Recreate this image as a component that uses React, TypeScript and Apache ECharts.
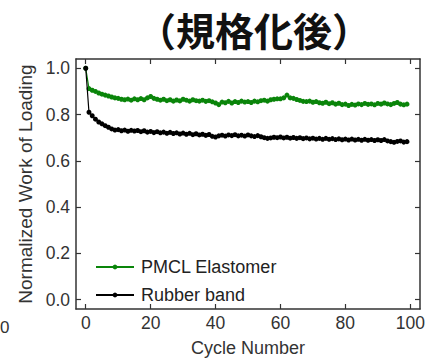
import React, { useEffect, useRef } from "react";
import * as echarts from "echarts";

const titleText = "（規格化後）";
const xName = "Cycle Number";
const yName = "Normalized Work of Loading";
const seriesNames = ["PMCL Elastomer", "Rubber band"];
const xTicks = [0, 20, 40, 60, 80, 100];
const yTicks = [0, 0.2, 0.4, 0.6, 0.8, 1.0];

const pmcl = [
  1.0, 0.912, 0.905, 0.9, 0.893, 0.888, 0.884, 0.88, 0.876, 0.872,
  0.87, 0.866, 0.864, 0.867, 0.862, 0.868, 0.864, 0.869, 0.864, 0.872,
  0.878, 0.87, 0.866, 0.862, 0.866, 0.86, 0.864, 0.858, 0.863, 0.859,
  0.866, 0.862, 0.858, 0.864, 0.86, 0.858, 0.862, 0.857, 0.86, 0.855,
  0.85, 0.843, 0.854, 0.851, 0.857, 0.85, 0.856, 0.852, 0.858, 0.854,
  0.856, 0.852, 0.858, 0.855, 0.86, 0.862, 0.858, 0.864, 0.866, 0.868,
  0.868, 0.872, 0.884, 0.872, 0.87, 0.865, 0.861, 0.857, 0.856, 0.858,
  0.853, 0.856, 0.851, 0.849, 0.853, 0.847, 0.851, 0.845, 0.849, 0.843,
  0.845, 0.839, 0.844, 0.841, 0.846, 0.843, 0.848, 0.844, 0.846, 0.842,
  0.848, 0.845, 0.85, 0.846, 0.843, 0.848, 0.852, 0.845, 0.842, 0.845,
];

const rubber = [
  1.0, 0.81, 0.795, 0.78, 0.768, 0.76, 0.752, 0.745, 0.738, 0.733,
  0.735, 0.73, 0.733, 0.728, 0.732, 0.729, 0.731, 0.726, 0.73, 0.724,
  0.727, 0.722, 0.726, 0.721, 0.724, 0.719, 0.723, 0.718, 0.721, 0.716,
  0.72, 0.715, 0.719, 0.713, 0.717, 0.712, 0.715, 0.71, 0.714, 0.706,
  0.703, 0.708, 0.711, 0.707, 0.712, 0.709, 0.713, 0.708, 0.711, 0.707,
  0.712, 0.708, 0.705, 0.709, 0.704, 0.7, 0.697, 0.699, 0.702, 0.7,
  0.703, 0.699, 0.702, 0.698, 0.701, 0.697, 0.7, 0.696, 0.699, 0.695,
  0.698, 0.694, 0.697, 0.693, 0.697, 0.693, 0.696, 0.692, 0.695, 0.691,
  0.694, 0.69, 0.694, 0.69, 0.693, 0.689, 0.693, 0.689, 0.692, 0.688,
  0.691, 0.688, 0.692, 0.686, 0.683, 0.68, 0.684, 0.686, 0.681, 0.683,
];

const font = "Liberation Sans, Arial, sans-serif";
const axisColor = "#333";

export default function App() {
  const ref = useRef<HTMLDivElement>(null);
  useEffect(() => {
    if (!ref.current) return;
    const chart = echarts.init(ref.current, null, { renderer: "svg" });
    const toPairs = (arr: number[]) => arr.map((v, i) => [i, v]);
    const axisLine = { show: true, onZero: false, lineStyle: { color: axisColor, width: 1.5 } };
    const tick = (vals: number[]) => ({
      show: true,
      inside: true,
      length: 5,
      customValues: vals,
      lineStyle: { color: axisColor, width: 1.2 },
    });
    chart.setOption({
      animation: false,
      backgroundColor: "#fff",
      graphic: [
        {
          type: "text",
          x: 254,
          y: 29,
          style: {
            text: titleText,
            font: "bold 39px 'Noto Sans CJK JP'",
            fill: "#111",
            textAlign: "center",
            textVerticalAlign: "middle",
          },
        },
        {
          type: "text",
          x: 0,
          y: 327,
          style: {
            text: "0",
            font: `17px ${font}`,
            fill: axisColor,
            textVerticalAlign: "middle",
          },
        },
      ],
      grid: { left: 76, right: 12, top: 59, bottom: 46 },
      legend: {
        orient: "vertical",
        left: 90,
        top: 253,
        itemWidth: 38,
        itemHeight: 6,
        itemGap: 10,
        textStyle: { fontFamily: font, fontSize: 18, color: "#222", padding: [0, 0, 0, 2] },
        data: seriesNames,
      },
      xAxis: [
        {
          type: "value",
          min: -3,
          max: 103,
          position: "bottom",
          axisLine,
          splitLine: { show: false },
          axisLabel: {
            fontFamily: font,
            fontSize: 17.5,
            color: axisColor,
            margin: 5,
            customValues: xTicks,
          },
          axisTick: tick(xTicks),
          name: xName,
          nameLocation: "middle",
          nameGap: 30,
          nameTextStyle: { fontFamily: font, fontSize: 18, color: axisColor },
        },
        {
          type: "value",
          min: -3,
          max: 103,
          position: "top",
          axisLine,
          splitLine: { show: false },
          axisLabel: { show: false },
          axisTick: tick(xTicks),
        },
      ],
      yAxis: [
        {
          type: "value",
          min: -0.04,
          max: 1.04,
          position: "left",
          axisLine,
          splitLine: { show: false },
          axisLabel: {
            fontFamily: font,
            fontSize: 17.5,
            color: axisColor,
            margin: 6,
            formatter: (v: number) => v.toFixed(1),
            customValues: yTicks,
          },
          axisTick: tick(yTicks),
          name: yName,
          nameLocation: "middle",
          nameGap: 38,
          nameTextStyle: { fontFamily: font, fontSize: 19, color: axisColor },
        },
        {
          type: "value",
          min: -0.04,
          max: 1.04,
          position: "right",
          axisLine,
          splitLine: { show: false },
          axisLabel: { show: false },
          axisTick: tick(yTicks),
        },
      ],
      series: [
        {
          name: seriesNames[0],
          type: "line",
          xAxisIndex: 0,
          yAxisIndex: 0,
          data: toPairs(pmcl),
          color: "#0a850a",
          symbol: "circle",
          symbolSize: 5,
          lineStyle: { width: 1.2 },
          z: 2,
        },
        {
          name: seriesNames[1],
          type: "line",
          xAxisIndex: 0,
          yAxisIndex: 0,
          data: toPairs(rubber),
          color: "#000",
          symbol: "circle",
          symbolSize: 5,
          lineStyle: { width: 1.2 },
          z: 3,
        },
      ],
    });
    return () => chart.dispose();
  }, []);
  return <div ref={ref} style={{ width: 432, height: 362, position: "absolute", left: 0, top: 0 }} />;
}
